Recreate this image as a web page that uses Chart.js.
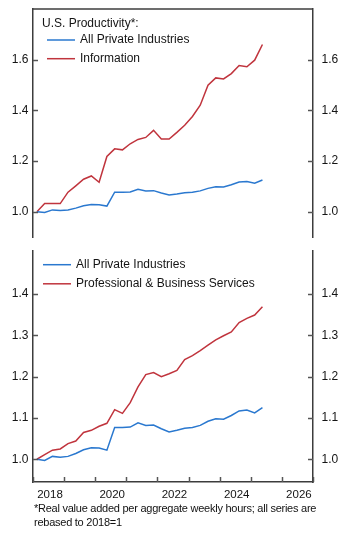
<!DOCTYPE html>
<html>
<head>
<meta charset="utf-8">
<script src="https://cdn.jsdelivr.net/npm/chart.js@4.4.1/dist/chart.umd.min.js"></script>
<style>
  html, body { margin: 0; padding: 0; background: #fff; }
  body { width: 346px; height: 538px; position: relative; overflow: hidden;
         font-family: "Liberation Sans", Arial, sans-serif; }
  canvas { position: absolute; left: 0; }
  #cTop { top: 0; }
  #cBottom { top: 245px; }
  #note { position: absolute; left: 34px; top: 501px; font-size: 11px; line-height: 14px;
          color: #111; letter-spacing: -0.25px; white-space: nowrap; }
</style>
</head>
<body>
<canvas id="cTop" width="346" height="245"></canvas>
<canvas id="cBottom" width="346" height="262"></canvas>
<div id="note">*Real value added per aggregate weekly hours; all series are<br>rebased to 2018=1</div>
<script>
// Quarterly productivity indices, 2018 = 1
const quarters = [
  '2018Q1', '2018Q2', '2018Q3', '2018Q4',
  '2019Q1', '2019Q2', '2019Q3', '2019Q4',
  '2020Q1', '2020Q2', '2020Q3', '2020Q4',
  '2021Q1', '2021Q2', '2021Q3', '2021Q4',
  '2022Q1', '2022Q2', '2022Q3', '2022Q4',
  '2023Q1', '2023Q2', '2023Q3', '2023Q4',
  '2024Q1', '2024Q2', '2024Q3', '2024Q4',
  '2025Q1', '2025Q2'
];
const allPrivate = [
  1.000, 0.997, 1.007, 1.005, 1.007, 1.014, 1.023, 1.028, 1.027, 1.022,
  1.077, 1.077, 1.078, 1.088, 1.082, 1.083, 1.074, 1.066, 1.070, 1.075,
  1.077, 1.082, 1.092, 1.098, 1.097, 1.106, 1.117, 1.119, 1.112, 1.125
];
const information = [
  1.000, 1.032, 1.032, 1.032, 1.077, 1.102, 1.128, 1.141, 1.116, 1.218,
  1.248, 1.244, 1.268, 1.285, 1.293, 1.321, 1.287, 1.287, 1.313, 1.341,
  1.376, 1.420, 1.499, 1.528, 1.524, 1.545, 1.577, 1.572, 1.598, 1.660
];
const profBusiness = [
  1.000, 1.011, 1.022, 1.025, 1.038, 1.044, 1.065, 1.070, 1.080, 1.087,
  1.120, 1.111, 1.137, 1.175, 1.205, 1.210, 1.200, 1.207, 1.215, 1.241,
  1.251, 1.263, 1.276, 1.289, 1.299, 1.308, 1.331, 1.341, 1.349, 1.369
];
const topTicks = [1.0, 1.2, 1.4, 1.6];
const bottomTicks = [1.0, 1.1, 1.2, 1.3, 1.4];
const yearTicks = [2018, 2019, 2020, 2021, 2022, 2023, 2024, 2025, 2026, 2027];
const yearLabels = [2018, 2020, 2022, 2024, 2026];

const BLUE = '#2a78cf';
const RED = '#c0343d';
const FRAME = '#3c3c3c';
const TEXT = '#141414';
const FONT = '"Liberation Sans", Arial, sans-serif';

// mid-quarter position in decimal years
const qx = q => Number(q.slice(0, 4)) + (Number(q.slice(5)) - 0.5) / 4;
const series = vals => quarters.map((q, i) => ({ x: qx(q), y: vals[i] }));

// inward tick marks on every axis, plus an optional top rule
const frameMarks = {
  id: 'frameMarks',
  afterDatasetsDraw(chart, args, o) {
    const { ctx, chartArea: a, scales } = chart;
    ctx.save();
    ctx.strokeStyle = o.tickColor;
    ctx.lineWidth = o.tickWidth;
    ['y', 'y2'].forEach(id => {
      const s = scales[id];
      const left = s.position === 'left';
      s.ticks.forEach(t => {
        const p = Math.round(s.getPixelForValue(t.value)) + 0.5;
        const x0 = left ? a.left : a.right;
        ctx.beginPath();
        ctx.moveTo(x0, p);
        ctx.lineTo(x0 + (left ? o.len : -o.len), p);
        ctx.stroke();
      });
    });
    const sx = scales.x;
    if (sx.options.display) {
      sx.ticks.forEach(t => {
        const p = Math.round(sx.getPixelForValue(t.value)) + 0.5;
        ctx.beginPath();
        ctx.moveTo(p, a.bottom);
        ctx.lineTo(p, a.bottom - o.len);
        ctx.stroke();
      });
    }
    if (o.topRule) {
      ctx.strokeStyle = FRAME;
      ctx.lineWidth = 1.5;
      ctx.beginPath();
      ctx.moveTo(a.left, a.top);
      ctx.lineTo(a.right, a.top);
      ctx.stroke();
    }
    ctx.restore();
  }
};

// legend drawn inside the plot area
const insetLegend = {
  id: 'insetLegend',
  afterDraw(chart, args, o) {
    const ctx = chart.ctx;
    ctx.save();
    ctx.font = '12px ' + FONT;
    ctx.fillStyle = TEXT;
    ctx.textBaseline = 'middle';
    let y = o.y;
    if (o.title) {
      ctx.fillText(o.title, o.titleX, y);
      y += o.titleGap;
    }
    chart.data.datasets.forEach(ds => {
      ctx.strokeStyle = ds.borderColor;
      ctx.lineWidth = ds.borderWidth;
      ctx.beginPath();
      ctx.moveTo(o.x, y);
      ctx.lineTo(o.x + o.swatch, y);
      ctx.stroke();
      ctx.fillText(ds.label, o.x + o.swatch + o.gap, y);
      y += o.lineHeight;
    });
    ctx.restore();
  }
};

function yAxis(pos, min, max, ticks, pad) {
  return {
    position: pos,
    min: min,
    max: max,
    afterBuildTicks: s => { s.ticks = ticks.map(v => ({ value: v })); },
    afterFit: s => { s.width = 33; s.paddingTop = 0; s.paddingBottom = 0; },
    ticks: {
      padding: pad,
      color: TEXT,
      font: { family: FONT, size: 12 },
      callback: v => Number(v).toFixed(1)
    },
    grid: { display: false, drawTicks: false },
    border: { display: true, color: FRAME, width: 1.5 }
  };
}

function line(label, vals, color) {
  return {
    label: label,
    data: series(vals),
    borderColor: color,
    borderWidth: 1.5,
    pointRadius: 0,
    tension: 0,
    fill: false
  };
}

function panel(canvasId, datasets, range, ticks, showX, pad, legend) {
  return new Chart(document.getElementById(canvasId), {
    type: 'line',
    data: { datasets: datasets },
    plugins: [frameMarks, insetLegend],
    options: {
      responsive: false,
      animation: false,
      devicePixelRatio: 1,
      layout: { padding: pad },
      plugins: {
        legend: { display: false },
        tooltip: { enabled: false },
        frameMarks: { len: 5, tickColor: '#555', tickWidth: 1.5, topRule: !showX },
        insetLegend: legend
      },
      scales: {
        x: {
          type: 'linear',
          display: showX,
          min: 2018,
          max: 2027,
          afterBuildTicks: s => { s.ticks = yearTicks.map(v => ({ value: v })); },
          afterFit: s => {
            s.height = showX ? 25 : 0;
            s.paddingLeft = 0;
            s.paddingRight = 0;
          },
          ticks: {
            autoSkip: false,
            maxRotation: 0,
            labelOffset: 17,
            padding: 6,
            color: TEXT,
            font: { family: FONT, size: 11.5 },
            callback: v => yearLabels.includes(v) ? String(v) : ''
          },
          grid: { display: false, drawTicks: false },
          border: { display: true, color: FRAME, width: 1.5 }
        },
        y: yAxis('left', range[0], range[1], ticks, 4.5),
        y2: yAxis('right', range[0], range[1], ticks, 8.5)
      }
    }
  });
}

panel('cTop',
  [line('All Private Industries', allPrivate, BLUE), line('Information', information, RED)],
  [0.9, 1.8], topTicks, false,
  { top: 9, bottom: 8, left: 0, right: 0 },
  { title: 'U.S. Productivity*:', titleX: 42, y: 23.5, titleGap: 16.5, x: 47, swatch: 28, gap: 5, lineHeight: 18.7 });

panel('cBottom',
  [line('All Private Industries', allPrivate, BLUE), line('Professional & Business Services', profBusiness, RED)],
  [0.945, 1.504], bottomTicks, true,
  { top: 6, bottom: 0, left: 0, right: 0 },
  { title: '', titleX: 0, y: 19.7, titleGap: 0, x: 43, swatch: 28, gap: 5, lineHeight: 19.1 });
</script>
</body>
</html>
